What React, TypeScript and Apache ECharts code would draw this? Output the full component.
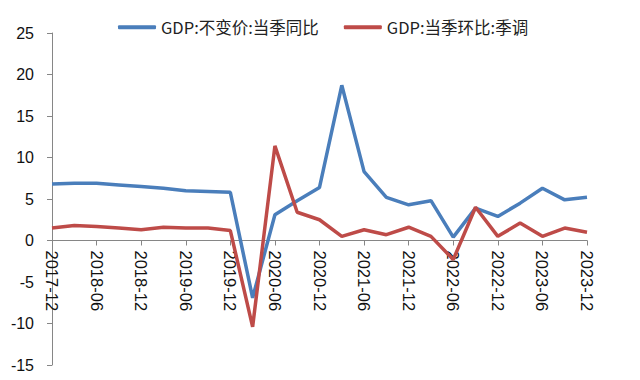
import React, { useEffect, useRef } from "react";
import * as echarts from "echarts";

const categories = [
  "2017-12", "2018-03", "2018-06", "2018-09", "2018-12", "2019-03", "2019-06", "2019-09", "2019-12",
  "2020-03", "2020-06", "2020-09", "2020-12", "2021-03", "2021-06", "2021-09", "2021-12",
  "2022-03", "2022-06", "2022-09", "2022-12", "2023-03", "2023-06", "2023-09", "2023-12",
];
const yoy = [6.8, 6.9, 6.9, 6.7, 6.5, 6.3, 6.0, 5.9, 5.8, -6.9, 3.1, 4.8, 6.4, 18.7, 8.3, 5.2, 4.3, 4.8, 0.4, 3.9, 2.9, 4.5, 6.3, 4.9, 5.2];
const qoq = [1.5, 1.8, 1.7, 1.5, 1.3, 1.6, 1.5, 1.5, 1.2, -10.4, 11.4, 3.4, 2.5, 0.5, 1.3, 0.7, 1.6, 0.5, -2.3, 4.0, 0.5, 2.1, 0.5, 1.5, 1.0];
const seriesNames = ["GDP:不变价:当季同比", "GDP:当季环比:季调"];
const yMin = -15;
const yMax = 25;

export default function App() {
  const ref = useRef<HTMLDivElement>(null);
  useEffect(() => {
    const chart = echarts.init(ref.current!, undefined, { renderer: "svg" });
    const font = "'Liberation Sans', 'Noto Sans CJK SC', sans-serif";
    const gridTop = 33;
    const gridBottom = 15;
    const plotH = 380 - gridTop - gridBottom;
    const zeroOffset = -(plotH * (0 - yMin)) / (yMax - yMin);
    chart.setOption({
      animation: false,
      backgroundColor: "#ffffff",
      textStyle: { fontFamily: font },
      legend: {
        top: 14,
        left: 113,
        itemWidth: 38,
        itemHeight: 4,
        itemGap: 25,
        icon: "roundRect",
        textStyle: { fontSize: 16.5, color: "#222", fontFamily: "'Noto Sans CJK SC', sans-serif" },
        data: seriesNames,
      },
      grid: { left: 52, right: 53, top: gridTop, bottom: gridBottom, containLabel: false, outerBoundsMode: "none" },
      xAxis: {
        type: "category",
        data: categories,
        boundaryGap: false,
        position: "bottom",
        offset: zeroOffset,
        axisLine: { onZero: false, lineStyle: { color: "#868686", width: 1 } },
        axisTick: { show: true, interval: 1, length: 5, inside: false, lineStyle: { color: "#868686" } },
        axisLabel: { interval: 1, rotate: -90, fontSize: 16.5, color: "#111", margin: 10, fontFamily: font },
        splitLine: { show: false },
      },
      yAxis: {
        type: "value",
        min: yMin,
        max: yMax,
        interval: 5,
        axisLine: { show: true, lineStyle: { color: "#868686", width: 1 } },
        axisTick: { show: true, length: 5, lineStyle: { color: "#868686" } },
        axisLabel: { fontSize: 16, color: "#111", margin: 18, fontFamily: font },
        splitLine: { show: false },
      },
      series: [
        {
          name: seriesNames[0],
          type: "line",
          data: yoy,
          symbol: "none",
          lineStyle: { width: 3.5, color: "#4A7EBB" },
          itemStyle: { color: "#4A7EBB" },
        },
        {
          name: seriesNames[1],
          type: "line",
          data: qoq,
          symbol: "none",
          lineStyle: { width: 3.5, color: "#BE4B48" },
          itemStyle: { color: "#BE4B48" },
        },
      ],
    });
    return () => chart.dispose();
  }, []);
  return (
    <div
      ref={ref}
      style={{ position: "fixed", left: 0, top: 0, width: 640, height: 380, background: "#fff" }}
    />
  );
}
